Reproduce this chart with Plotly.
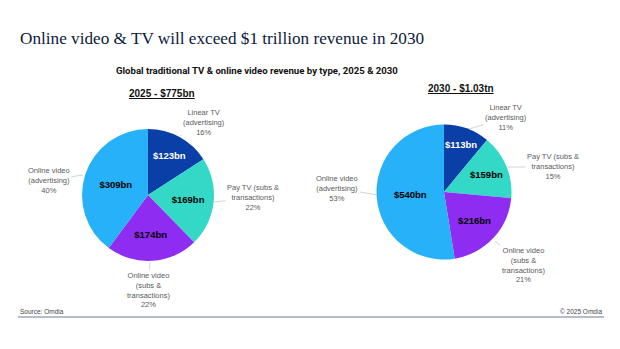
import plotly.graph_objects as go

# ---- data ----
categories = ["Linear TV<br>(advertising)", "Pay TV (subs &<br>transactions)",
              "Online video<br>(subs &<br>transactions)", "Online video<br>(advertising)"]
values_2025 = [123, 169, 174, 309]
values_2030 = [113, 159, 216, 540]
pie_titles = ["2025 - $775bn", "2030 - $1.03tn"]
title_text = "Online video & TV will exceed $1 trillion revenue in 2030"
subtitle_text = "Global traditional TV & online video revenue by type, 2025 & 2030"
source_text = "Source: Omdia"
copyright_text = "© 2025 Omdia"

# ---- style / layout ----
W, H = 620, 349
colors = ["#0b3fa8", "#33d8c6", "#8e2cf2", "#27b1f8"]
inside_font_colors = ["white", "black", "black", "black"]
SANS = "Roboto, Liberation Sans, Arial, sans-serif"
SANS_REG = "Liberation Sans, Arial, sans-serif"

def px_dom_x(c, r):
    return [(c - r) / W, (c + r) / W]

def px_dom_y(c, r):
    return [1 - (c + r) / H, 1 - (c - r) / H]

pies = [
    dict(vals=values_2025, cx=148, cy=195, r=66, title_xy=(162, 93),
         label_pos=[(204, 122), (253, 198), (148, 290), (49, 180)],
         tips=[(180, 136), (213, 202), (150, 262), (83, 175)]),
    dict(vals=values_2030, cx=444, cy=192, r=67.5, title_xy=(461, 89),
         label_pos=[(506, 118), (553, 167), (523, 265), (337, 188)],
         tips=[(469, 129), (507, 167), (495, 241), (377, 195)]),
]

fig = go.Figure()
annotations = []
for i, p in enumerate(pies):
    fig.add_trace(go.Pie(
        labels=categories, values=p["vals"], sort=False, direction="clockwise",
        rotation=0, marker=dict(colors=colors, line=dict(width=0)),
        texttemplate="<b>$%{value}bn</b>", textposition="inside",
        insidetextorientation="horizontal",
        insidetextfont=dict(color=inside_font_colors, size=9.5, family=SANS_REG),
        domain=dict(x=px_dom_x(p["cx"], p["r"]), y=px_dom_y(p["cy"], p["r"])),
        showlegend=False, hoverinfo="label+value+percent",
    ))
    total = sum(p["vals"])
    for cat, v, (tx, ty), (ax_, ay_) in zip(categories, p["vals"], p["label_pos"], p["tips"]):
        pct = round(v / total * 100)
        annotations.append(dict(
            text=f"{cat}<br>{pct}%", x=ax_ / W, y=1 - ay_ / H, xref="paper", yref="paper",
            ax=tx - ax_, ay=ty - ay_, showarrow=True, arrowhead=0, arrowwidth=0.8,
            arrowcolor="#c8c8c8", standoff=0, startstandoff=0,
            font=dict(size=7.5, color="#5a5a5a", family=SANS_REG), align="center",
        ))
    annotations.append(dict(
        text=f"<b><u>{pie_titles[i]}</u></b>", x=p["title_xy"][0] / W,
        y=1 - p["title_xy"][1] / H, xref="paper", yref="paper", showarrow=False,
        xanchor="center", yanchor="middle", font=dict(size=10, color="#111111", family=SANS_REG),
    ))

annotations += [
    dict(text=title_text, x=18 / W, y=1 - 38 / H, xref="paper", yref="paper",
         xanchor="left", yanchor="middle", showarrow=False,
         font=dict(size=17.2, color="#0b1a3c", family="Liberation Serif, serif")),
    dict(text=f"<b>{subtitle_text}</b>", x=257 / W, y=1 - 70 / H, xref="paper", yref="paper",
         xanchor="center", yanchor="middle", showarrow=False,
         font=dict(size=9.6, color="#111111", family=SANS)),
    dict(text=source_text, x=18 / W, y=1 - 311 / H, xref="paper", yref="paper",
         xanchor="left", yanchor="middle", showarrow=False,
         font=dict(size=6.5, color="#444444", family=SANS_REG)),
    dict(text=copyright_text, x=604 / W, y=1 - 311 / H, xref="paper", yref="paper",
         xanchor="right", yanchor="middle", showarrow=False,
         font=dict(size=6.5, color="#444444", family=SANS_REG)),
]

fig.update_layout(
    width=W, height=H, margin=dict(l=0, r=0, t=0, b=0),
    paper_bgcolor="white", plot_bgcolor="white",
    annotations=annotations,
    shapes=[dict(type="line", xref="paper", yref="paper", x0=18 / W, x1=604 / W,
                 y0=1 - 317 / H, y1=1 - 317 / H, line=dict(color="#9ea6ba", width=1.5))],
)

fig.write_html("out.html")
